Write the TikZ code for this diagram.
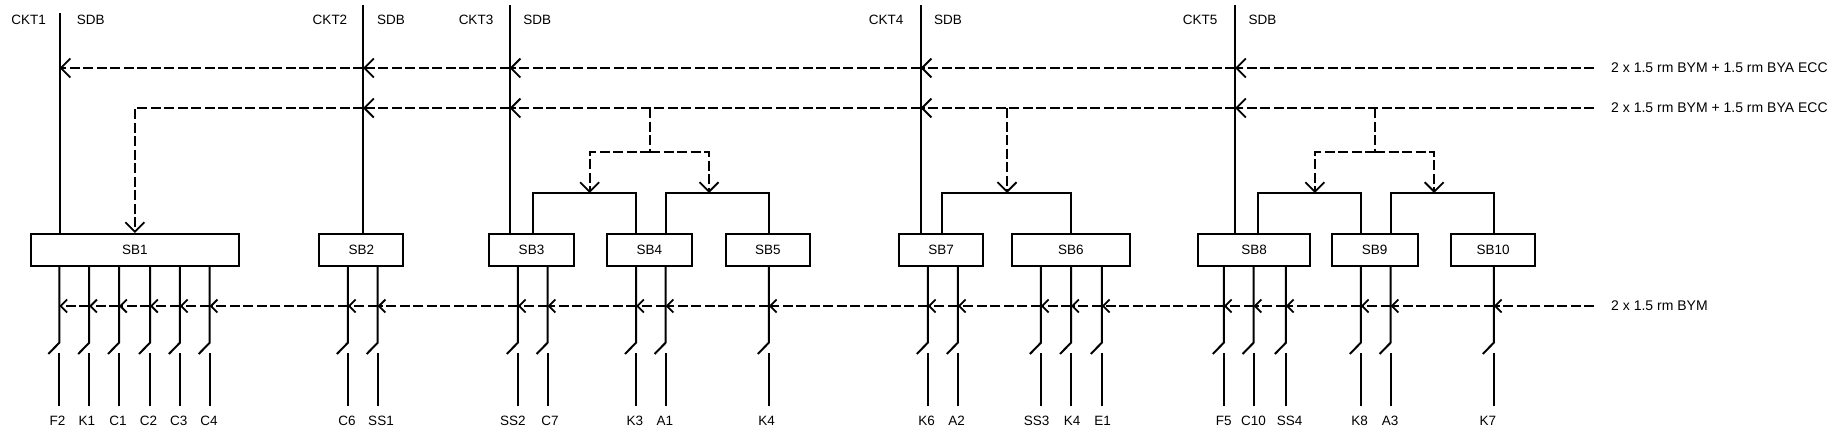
\documentclass[tikz,border=0pt]{standalone}
\usepackage{fontspec}
\setmainfont{Liberation Sans}
\usetikzlibrary{arrows.meta}
\tikzstyle{board} = [rectangle, 
draw=black, 
line width=2pt, 
inner sep=0pt, 
font=\fontsize{13.5}{15}\selectfont, 
text centered]
\tikzstyle{label} = [inner sep=0pt, font=\fontsize{13.5}{15}\selectfont]
\tikzstyle{cablelabel} = [inner sep=0pt, anchor=west, font=\fontsize{14}{16}\selectfont]
\tikzstyle{bus} = [line width=2pt]
\tikzstyle{cable} = [line width=2pt, dash pattern=on 10pt off 3.5pt]
\tikzstyle{arrow} = [cable, -{Straight Barb[length=9.5pt,width=19pt,line width=1.8pt]}]
\tikzstyle{tap} = [cable, -{Straight Barb[length=6.5pt,width=13pt,line width=1.8pt]}]
\newcommand{\boardbox}[4]{\node (#1) [board, minimum width=#3pt, minimum height=32pt] at (#2,250) {#4};}

\begin{document}
\begin{tikzpicture}[x=1pt, y=-1pt]
  \useasboundingbox (0,0) rectangle (1832,437);

  % distribution boards
  \boardbox{sb1}{134.9}{208.6}{SB1}
  \boardbox{sb2}{361.3}{84.2}{SB2}
  \boardbox{sb3}{531.5}{85}{SB3}
  \boardbox{sb4}{649.3}{85.3}{SB4}
  \boardbox{sb5}{767.8}{84.3}{SB5}
  \boardbox{sb7}{941}{84}{SB7}
  \boardbox{sb6}{1070.8}{118.4}{SB6}
  \boardbox{sb8}{1254}{112}{SB8}
  \boardbox{sb9}{1374.7}{85.8}{SB9}
  \boardbox{sb10}{1493}{84.6}{SB10}

  % circuit risers
  \foreach \n/\x/\y/\b in {1/59.7/13/sb1, 2/363/5/sb2, 3/509.7/5/sb3, 4/920.7/5/sb7, 5/1235/5/sb8} {
    \coordinate (top\n) at (\x,\y);
    \coordinate (up\n) at (\x,68);
    \coordinate (mid\n) at (\x,108);
    \draw [bus] (top\n) -- (top\n |- \b.north);
  }
  \foreach \n/\x/\c/\s in {1/28.7/CKT1/90.7, 2/330/CKT2/391, 3/476/CKT3/537.3, 4/886/CKT4/948, 5/1200/CKT5/1262.5} {
    \node (ckt\n) [label] at (\x,20) {\c};
    \node (sdb\n) [label] at (\s,20) {SDB};
  }

  % cable labels
  \node (cabA) [cablelabel] at (1611,68) {2 x 1.5 rm BYM + 1.5 rm BYA ECC};
  \node (cabB) [cablelabel] at (1611,108) {2 x 1.5 rm BYM + 1.5 rm BYA ECC};
  \node (cabC) [cablelabel] at (1611,306) {2 x 1.5 rm BYM};
  \coordinate (endA) at (1594,68);
  \coordinate (endB) at (1594,108);
  \coordinate (endC) at (1594,306);

  % cable runs along the risers
  \draw [arrow] (endA) -- (up5);
  \draw [arrow] (up5) -- (up4);
  \draw [arrow] (up4) -- (up3);
  \draw [arrow] (up3) -- (up2);
  \draw [arrow] (up2) -- (up1);
  \draw [arrow] (endB) -- (mid5);
  \draw [arrow] (mid5) -- (mid4);
  \draw [arrow] (mid4) -- (mid3);
  \draw [arrow] (mid3) -- (mid2);
  \draw [arrow] (mid2) -| (sb1.north);

  % feeding brackets between boards
  \foreach \n/\l/\r/\a/\b in {a/532.7/636.4/sb3/sb4, b/665.6/769.2/sb4/sb5, c/941.6/1071/sb7/sb6, d/1258/1361.2/sb8/sb9, e/1390.6/1493.8/sb9/sb10} {
    \coordinate (br\n l) at (\l,193);
    \coordinate (br\n r) at (\r,193);
    \draw [bus] (\a.north -| br\n l) -- (br\n l) -- (br\n r) -- (\b.north -| br\n r);
  }
  \foreach \n/\x/\l/\r in {a/650/589.7/709, d/1375/1314.9/1434.2} {
    \coordinate (tee\n) at (\x,108);
    \coordinate (fork\n) at (\x,152);
    \coordinate (dropl\n) at (\l,193);
    \coordinate (dropr\n) at (\r,193);
    \draw [cable] (tee\n) -- (fork\n);
    \draw [arrow] (fork\n) -| (dropl\n);
    \draw [arrow] (fork\n) -| (dropr\n);
  }
  \coordinate (teec) at (1007,108);
  \coordinate (dropc) at (1007,193);
  \draw [arrow] (teec) -- (dropc);

  % outgoing ways with switches
  \coordinate (prev) at (endC);
  \foreach \n/\x/\t/\lx/\b in {
    24/1493.8/K7/1487.8/sb10, 23/1390.6/A3/1390/sb9, 22/1360.8/K8/1359.6/sb9,
    21/1285.9/SS4/1289.5/sb8, 20/1253.6/C10/1253.6/sb8, 19/1223.8/F5/1223.8/sb8,
    18/1101.8/E1/1102.6/sb6, 17/1071/K4/1072/sb6, 16/1040.9/SS3/1036.5/sb6,
    15/957.8/A2/956.7/sb7, 14/927.8/K6/926.6/sb7, 13/768.8/K4/766.5/sb5,
    12/665.6/A1/664.8/sb4, 11/636/K3/634.8/sb4, 10/547.6/C7/550/sb3,
    9/517.8/SS2/512.8/sb3, 8/377.7/SS1/381/sb2, 7/347.9/C6/347/sb2,
    6/209.7/C4/209/sb1, 5/179.9/C3/178.7/sb1, 4/150/C2/148.5/sb1,
    3/119/C1/118/sb1, 2/89.2/K1/87/sb1, 1/59.3/F2/57.4/sb1} {
    \node (way\n) [label] at (\lx,421) {\t};
    \coordinate (sw\n) at (\x,342.7);
    \coordinate (blade\n) at (\x-11,354);
    \coordinate (load\n) at (\x,353);
    \coordinate (foot\n) at (\x,405.7);
    \coordinate (tap\n) at (\x,306);
    \draw [bus] (\b.south -| sw\n) -- (sw\n) -- (blade\n);
    \draw [bus] (load\n) -- (foot\n);
    \draw [tap] (prev) -- (tap\n);
    \coordinate (prev) at (tap\n);
  }

\end{tikzpicture}
\end{document}
